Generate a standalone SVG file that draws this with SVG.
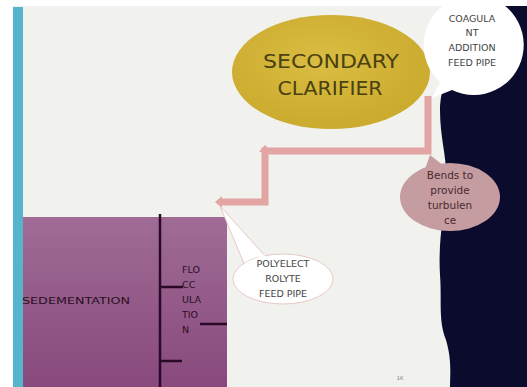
<svg xmlns="http://www.w3.org/2000/svg" width="527" height="387" viewBox="0 0 527 387">
<defs>
<style>
.t{font-family:"DejaVu Sans","Liberation Sans",sans-serif;}
.pipe{fill:none;stroke:#e3a4a4;stroke-width:7;stroke-linejoin:miter;}
.small{font-size:9.5px;fill:#444;text-anchor:middle;}
</style>
<radialGradient id="gold" cx="0.45" cy="0.4" r="0.65">
<stop offset="0" stop-color="#d9bd42"/>
<stop offset="1" stop-color="#caa92c"/>
</radialGradient>
<linearGradient id="purp" x1="0" y1="0" x2="0" y2="1">
<stop offset="0" stop-color="#a06c96"/>
<stop offset="1" stop-color="#88497c"/>
</linearGradient>
</defs>
<rect width="527" height="387" fill="#ffffff"/>
<rect x="13" y="6" width="514" height="381" fill="#f1f1ee"/>
<rect x="13" y="7" width="10" height="380" fill="#56b4cc"/>
<path d="M470 6 L527 6 L527 387 L450 387 C450 375 452 360 446 340 C438 320 442 300 440 275 C438 240 444 215 446 185 C448 160 440 140 440 110 C440 90 450 60 470 6 Z" fill="#0b0b2e"/>
<g id="connectors">
<path class="pipe" d="M428 96 L428 151 L265 151 L265 202 L222 202"/>
<path d="M222 196 L215 202 L222 208 Z" fill="#e3a4a4"/>
<path d="M259 152 L265 145 L271 152 Z" fill="#e3a4a4"/>
</g>
<g id="secondary-clarifier">
<ellipse cx="331" cy="72" rx="99" ry="57" fill="url(#gold)"/>
<text class="t" x="331" y="68" font-size="20" fill="#4a4010" text-anchor="middle" textLength="136" lengthAdjust="spacingAndGlyphs">SECONDARY</text>
<text class="t" x="330" y="95" font-size="20" fill="#4a4010" text-anchor="middle" textLength="105" lengthAdjust="spacingAndGlyphs">CLARIFIER</text>
</g>
<g id="coagulant">
<path d="M472 -5 A50 50 0 1 1 452 90 L432 98 L440 82 A50 50 0 0 1 472 -5 Z" fill="#ffffff"/>
<text class="t small" x="472" y="22">COAGULA</text>
<text class="t small" x="472" y="36">NT</text>
<text class="t small" x="472" y="51">ADDITION</text>
<text class="t small" x="472" y="66">FEED PIPE</text>
</g>
<g id="bends">
<path d="M430 155 L444 166 L424 172 Z" fill="#c59ca0"/>
<ellipse cx="450" cy="197" rx="50" ry="34" fill="#c59ca0"/>
<text class="t" x="450" y="179" font-size="10.5" fill="#4a2a30" text-anchor="middle">Bends to</text>
<text class="t" x="450" y="194" font-size="10.5" fill="#4a2a30" text-anchor="middle">provide</text>
<text class="t" x="450" y="209" font-size="10.5" fill="#4a2a30" text-anchor="middle">turbulen</text>
<text class="t" x="450" y="224" font-size="10.5" fill="#4a2a30" text-anchor="middle">ce</text>
</g>
<g id="sedementation">
<rect x="23" y="217" width="204" height="170" fill="url(#purp)"/>
<line x1="160" y1="214" x2="160" y2="387" stroke="#2a0a26" stroke-width="2.5"/>
<line x1="160" y1="287" x2="183" y2="287" stroke="#2a0a26" stroke-width="2.5"/>
<line x1="200" y1="324" x2="227" y2="324" stroke="#2a0a26" stroke-width="2.5"/>
<line x1="160" y1="361" x2="182" y2="361" stroke="#2a0a26" stroke-width="2.5"/>
<text class="t" x="22" y="304" font-size="9.5" fill="#2a1024" textLength="108" lengthAdjust="spacingAndGlyphs">SEDEMENTATION</text>
<text class="t" x="182" y="273" font-size="9.5" fill="#2a1024">FLO</text>
<text class="t" x="182" y="288" font-size="9.5" fill="#2a1024">CC</text>
<text class="t" x="182" y="303" font-size="9.5" fill="#2a1024">ULA</text>
<text class="t" x="182" y="318" font-size="9.5" fill="#2a1024">TIO</text>
<text class="t" x="182" y="333" font-size="9.5" fill="#2a1024">N</text>
</g>
<g id="polyelectrolyte">
<path d="M220 206 L245 266 L266 257 Z" fill="#ffffff" stroke="#e8c8c8" stroke-width="1"/>
<ellipse cx="283" cy="279" rx="50" ry="25" fill="#ffffff" stroke="#e8c8c8" stroke-width="1"/>
<path d="M246 264 L265 256" stroke="#ffffff" stroke-width="3"/>
<text class="t small" x="283" y="267">POLYELECT</text>
<text class="t small" x="283" y="282">ROLYTE</text>
<text class="t small" x="283" y="297">FEED PIPE</text>
</g>
<text class="t" x="400" y="380" font-size="5" fill="#777" text-anchor="middle">16</text>
</svg>
